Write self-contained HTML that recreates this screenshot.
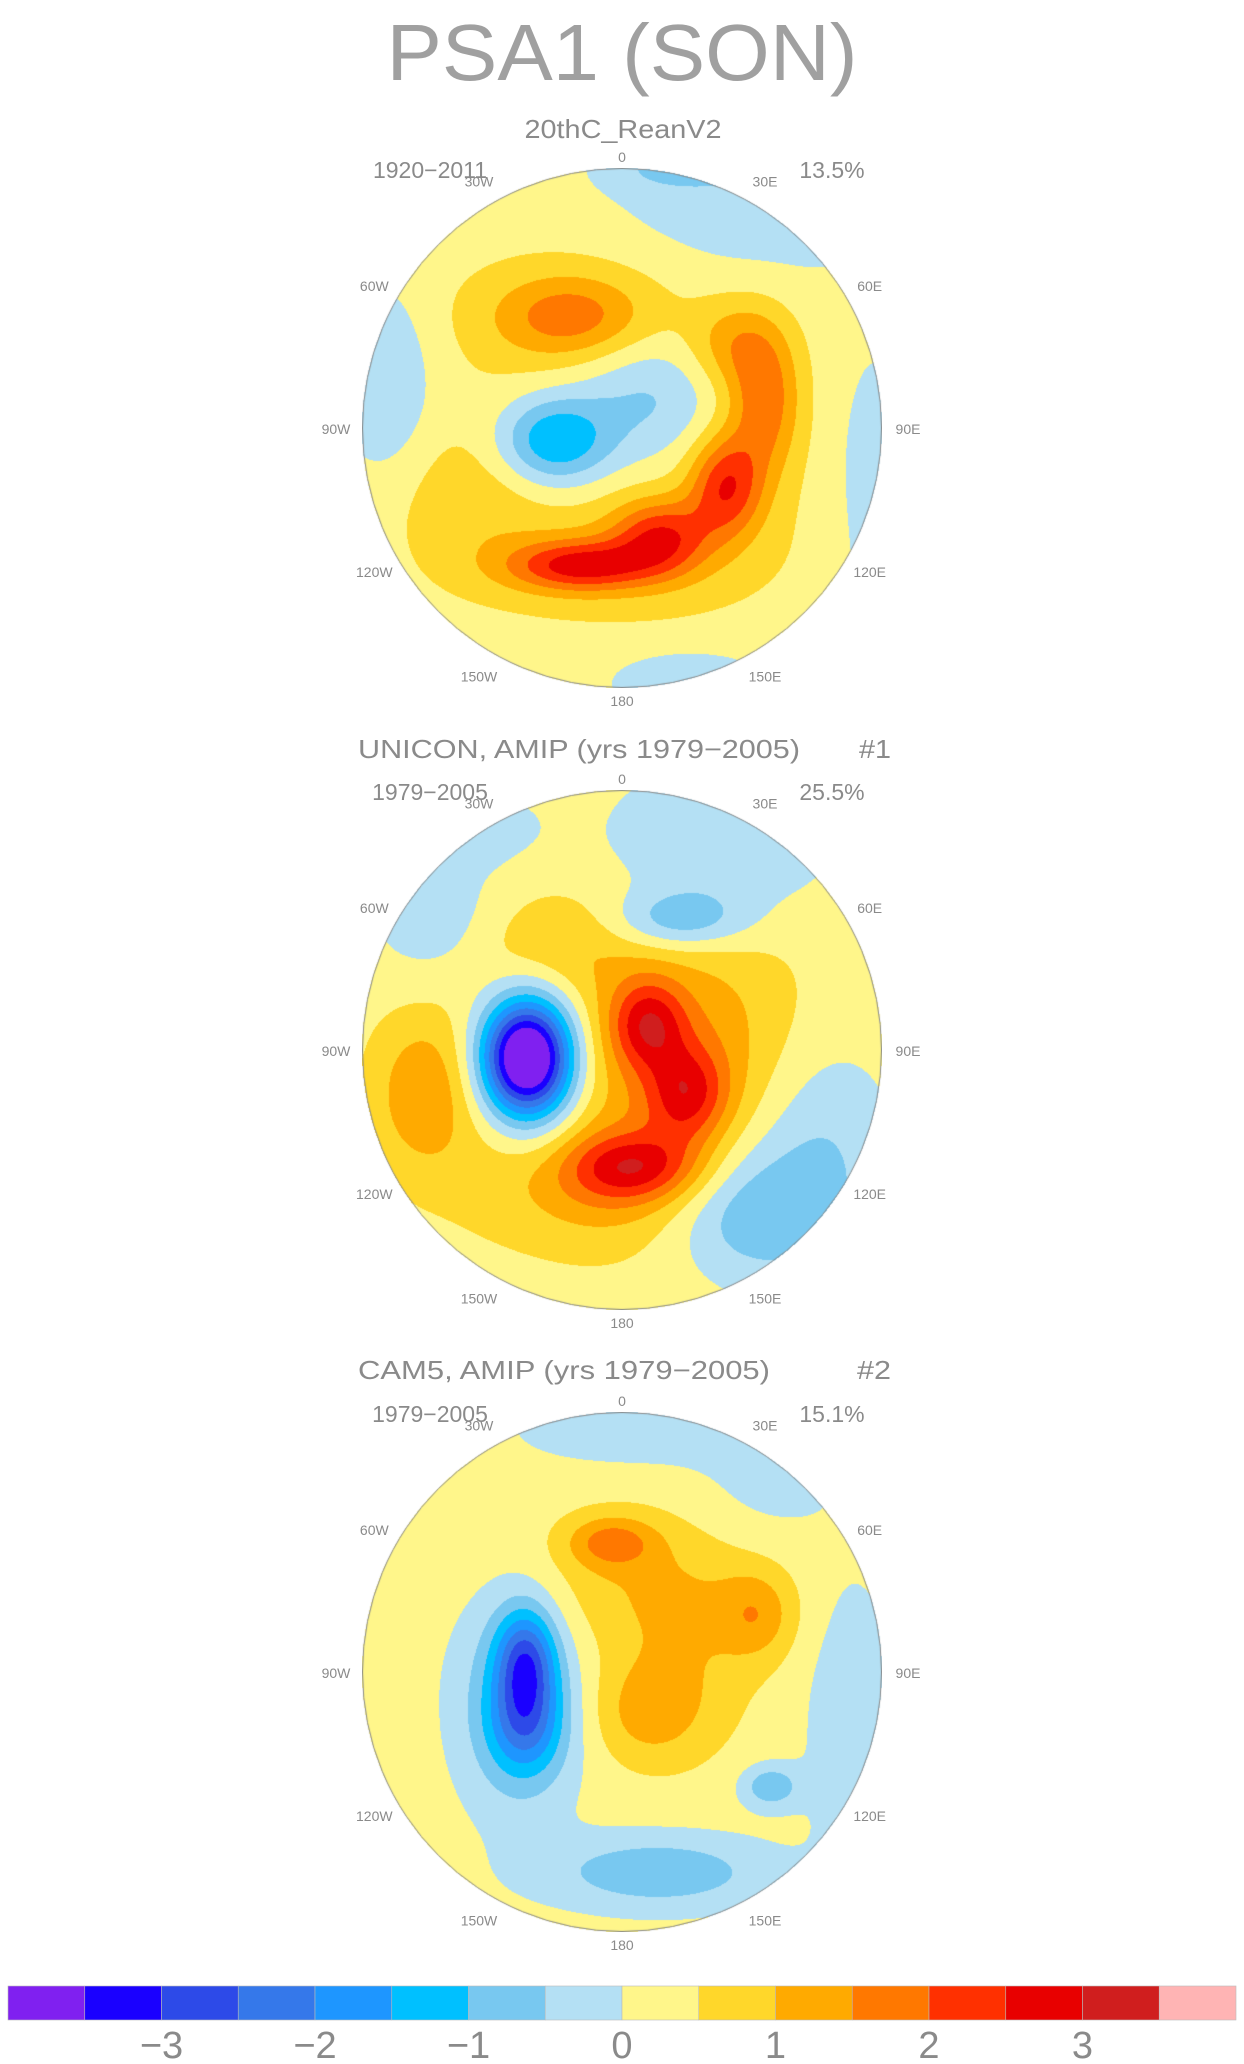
<!DOCTYPE html>
<html><head><meta charset="utf-8"><style>
html,body{margin:0;padding:0;background:#fff;}
#wrap{position:relative;width:1244px;height:2064px;overflow:hidden;}
canvas{position:absolute;}
svg{position:absolute;left:0;top:0;}
text{font-family:"Liberation Sans",sans-serif;fill:#8a8a8a;}
</style></head><body>
<div id="wrap">
<canvas id="c0" width="520" height="520" style="left:362px;top:168px"></canvas>
<canvas id="c1" width="520" height="520" style="left:362px;top:790px"></canvas>
<canvas id="c2" width="520" height="520" style="left:362px;top:1412px"></canvas>
<svg id="ov" width="1244" height="2064">
<text x="622" y="80" font-size="80" text-anchor="middle" textLength="471" lengthAdjust="spacingAndGlyphs" style="fill:#a0a0a0">PSA1 (SON)</text>
<text x="623" y="138" font-size="26" text-anchor="middle" textLength="197" lengthAdjust="spacingAndGlyphs">20thC_ReanV2</text>
<text x="358" y="758" font-size="26" textLength="442" lengthAdjust="spacingAndGlyphs">UNICON, AMIP (yrs 1979−2005)</text>
<text x="859" y="758" font-size="26" textLength="32" lengthAdjust="spacingAndGlyphs">#1</text>
<text x="358" y="1379" font-size="26" textLength="412" lengthAdjust="spacingAndGlyphs">CAM5, AMIP (yrs 1979−2005)</text>
<text x="857" y="1379" font-size="26" textLength="34" lengthAdjust="spacingAndGlyphs">#2</text>
</svg>
</div>
<script>
const colors=["#8020f0","#1a00ff","#2d4ae8","#3578ea","#1e96ff","#00c0ff","#78c8f0","#b4e0f4","#fff68a","#ffd72a","#ffaa00","#ff7800","#ff3000","#e80000","#d01e1e","#ffb4b4"];
const levels=[-3.5,-3,-2.5,-2,-1.5,-1,-0.5,0,0.5,1,1.5,2,2.5,3,3.5];
const tickLabels=["−3","−2","−1","0","1","2","3"];
const tickValues=[-3,-2,-1,0,1,2,3];
const periods=["1920−2011","1979−2005","1979−2005"];
const variances=["13.5%","25.5%","15.1%"];
const lonLabels=["0","30E","60E","90E","120E","150E","180","150W","120W","90W","60W","30W"];
// blobs: [u, v, amp, wu, wv]
const base=[0.2,0.2,0.2];
const blobs0=[[-0.2,-0.43,1.2,0.2,0.11],[-0.2,-0.4,0.5,0.4,0.24],
[-0.16,0.53,2.1,0.2,0.07],[0.15,0.42,1.8,0.13,0.1],[0.4,0.22,2.0,0.1,0.14],[0.55,-0.1,1.6,0.1,0.2],[0.42,-0.32,0.9,0.12,0.12],[0.0,0.48,0.6,0.5,0.22],[-0.6,0.25,0.5,0.2,0.2],
[-0.26,0.05,-1.8,0.15,0.12],[0.09,-0.13,-0.9,0.2,0.17],[0.55,-0.9,-0.7,0.4,0.2],[-0.9,-0.18,-0.75,0.12,0.25],[0.25,0.97,-0.7,0.2,0.08],[0.97,0.3,-0.7,0.08,0.35],[0.15,-1.0,-0.5,0.15,0.06]];
const blobs1=[[-0.37,0.03,-4.4,0.12,0.15],[-0.33,0.05,-1.2,0.14,0.26],
[0.1,-0.1,1.8,0.1,0.12],[0.25,0.17,1.7,0.11,0.13],[0.05,0.45,1.6,0.17,0.09],[-0.1,0.5,0.9,0.3,0.16],[0.3,-0.05,0.7,0.3,0.3],[-0.77,0.17,1.0,0.13,0.2],[-0.05,0.1,0.6,0.55,0.5],[-0.3,-0.4,0.6,0.22,0.14],
[0.45,0.62,-1.1,0.2,0.18],[0.75,0.4,-0.9,0.2,0.35],[0.22,-0.5,-1.2,0.18,0.08],[0.35,-0.78,-0.8,0.3,0.2],[-0.7,-0.5,-0.7,0.18,0.18],[-0.6,-0.85,-0.6,0.2,0.1]];
const blobs2=[[-0.37,-0.05,-2.1,0.08,0.14],[-0.37,0.2,-1.5,0.1,0.14],[-0.4,0.1,-1.2,0.16,0.3],
[0.14,0.77,-1.1,0.3,0.1],[0.57,0.44,-1.1,0.08,0.06],[0.88,0.2,-0.6,0.12,0.4],[0.04,-0.94,-0.6,0.3,0.1],[0.55,-0.72,-0.4,0.2,0.2],
[-0.04,-0.5,1.2,0.12,0.07],[0.1,-0.35,0.7,0.35,0.2],[0.52,-0.22,0.9,0.1,0.12],[0.09,0.16,0.8,0.15,0.14],[0.25,0.0,0.55,0.2,0.25]];
const allBlobs=[blobs0,blobs1,blobs2];
function colorIndex(v){let i=0;while(i<levels.length&&v>=levels[i])i++;return i;}
function hex(c){return [parseInt(c.slice(1,3),16),parseInt(c.slice(3,5),16),parseInt(c.slice(5,7),16)];}
const rgb=colors.map(hex);
const R=260;
allBlobs.forEach((bl,p)=>{
  const cv=document.getElementById('c'+p),ctx=cv.getContext('2d');
  const img=ctx.createImageData(520,520),d=img.data;
  for(let y=0;y<520;y++)for(let x=0;x<520;x++){
    const u=(x+0.5-R)/R,v=(y+0.5-R)/R;
    if(u*u+v*v>1)continue;
    let val=base[p];
    for(const b of bl){const du=(u-b[0])/b[3],dv=(v-b[1])/b[4];val+=b[2]*Math.exp(-0.5*(du*du+dv*dv));}
    const c=rgb[colorIndex(val)],k=(y*520+x)*4;
    d[k]=c[0];d[k+1]=c[1];d[k+2]=c[2];d[k+3]=255;
  }
  ctx.putImageData(img,0,0);
  ctx.beginPath();ctx.arc(R,R,R-0.5,0,Math.PI*2);ctx.strokeStyle="#888";ctx.lineWidth=1;ctx.stroke();
});
const NS="http://www.w3.org/2000/svg",ov=document.getElementById('ov');
function txt(x,y,s,size,anchor){const t=document.createElementNS(NS,'text');t.setAttribute('x',x);t.setAttribute('y',y);t.setAttribute('font-size',size);t.setAttribute('text-anchor',anchor||'middle');t.textContent=s;ov.appendChild(t);return t;}
const cys=[428,1050,1672];
cys.forEach((cy,p)=>{
  let t=txt(430,cy-250,periods[p],23);
  
  
  t=txt(832,cy-250,variances[p],23);
  
  
  lonLabels.forEach((s,i)=>{
    const a=i*30*Math.PI/180, rr=i===0||i===6?R+12:R+26;
    const x=622+rr*Math.sin(a), y=cy-rr*Math.cos(a)+6;
    const e=txt(x,y,s,14);
    
    
  });
});
const x0=8,x1=1236,cw=(x1-x0)/colors.length;
colors.forEach((c,i)=>{
  const r=document.createElementNS(NS,'rect');
  r.setAttribute('x',x0+i*cw);r.setAttribute('y',1986);r.setAttribute('width',cw);r.setAttribute('height',34);
  r.setAttribute('fill',c);r.setAttribute('stroke','#bbb');r.setAttribute('stroke-width','0.6');
  
  
  ov.appendChild(r);
});
function cbx(v){return x0+(levels.indexOf(v)+1)*cw;}
tickValues.forEach((v,i)=>{
  const t=txt(cbx(v),2058,tickLabels[i],38);
  
  
});
</script>
</body></html>
